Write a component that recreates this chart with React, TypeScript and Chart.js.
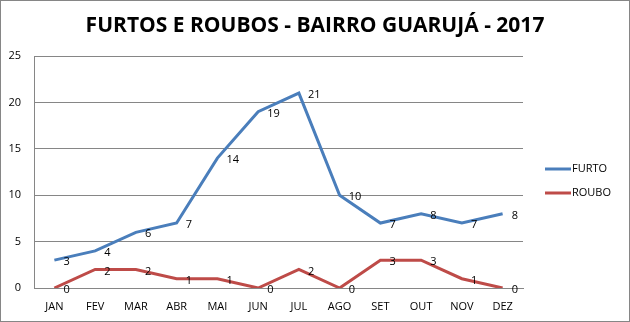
import React, { useEffect, useRef } from "react";
import { Chart, registerables } from "chart.js";

Chart.register(...registerables);

const categories = ["JAN", "FEV", "MAR", "ABR", "MAI", "JUN", "JUL", "AGO", "SET", "OUT", "NOV", "DEZ"];
const furto = [3, 4, 6, 7, 14, 19, 21, 10, 7, 8, 7, 8];
const roubo = [0, 2, 2, 1, 1, 0, 2, 0, 3, 3, 1, 0];
const yTicks = [0, 5, 10, 15, 20, 25];
const seriesNames = ["FURTO", "ROUBO"];
const colors = ["#4A7EBB", "#BE4B48"];
const titleText = "FURTOS E ROUBOS - BAIRRO GUARUJÁ - 2017";

const FONT = "'Open Sans', sans-serif";

const labelsPlugin = {
  id: "pointLabels",
  afterDatasetsDraw(chart: any) {
    const ctx = chart.ctx;
    ctx.save();
    ctx.font = `11px ${FONT}`;
    ctx.fillStyle = "#000";
    ctx.textAlign = "left";
    ctx.textBaseline = "middle";
    chart.data.datasets.forEach((ds: any, i: number) => {
      const meta = chart.getDatasetMeta(i);
      meta.data.forEach((pt: any, j: number) => {
        ctx.fillText(String(ds.data[j]), pt.x + 9, pt.y + 2);
      });
    });
    ctx.restore();
  },
};

const decorPlugin = {
  id: "decor",
  afterDraw(chart: any) {
    const ctx = chart.ctx;
    ctx.save();
    // title
    ctx.font = `bold 21px ${FONT}`;
    ctx.fillStyle = "#000";
    ctx.textAlign = "center";
    ctx.textBaseline = "middle";
    ctx.fillText(titleText, chart.width / 2, 26);
    // legend
    ctx.font = `11px ${FONT}`;
    ctx.textAlign = "left";
    const ys = [169, 193];
    chart.data.datasets.forEach((ds: any, i: number) => {
      const y = ys[i];
      ctx.strokeStyle = ds.borderColor;
      ctx.lineWidth = 3;
      ctx.beginPath();
      ctx.moveTo(545, y);
      ctx.lineTo(571, y);
      ctx.stroke();
      ctx.fillStyle = "#000";
      ctx.fillText(ds.label, 572, y);
    });
    // chart border
    ctx.strokeStyle = "#868686";
    ctx.lineWidth = 1;
    ctx.strokeRect(0.5, 0.5, chart.width - 1, chart.height - 1);
    ctx.restore();
  },
};

export default function App() {
  const ref = useRef<HTMLCanvasElement>(null);
  useEffect(() => {
    document.body.style.margin = "0";
    const chart = new Chart(ref.current as HTMLCanvasElement, {
      type: "line",
      data: {
        labels: categories,
        datasets: [
          { label: seriesNames[0], data: furto, borderColor: colors[0], backgroundColor: colors[0], borderWidth: 3, pointRadius: 0, tension: 0 },
          { label: seriesNames[1], data: roubo, borderColor: colors[1], backgroundColor: colors[1], borderWidth: 3, pointRadius: 0, tension: 0 },
        ],
      },
      options: {
        animation: false,
        responsive: false,
        layout: { padding: { top: 56, right: 107, bottom: 0, left: 0 } },
        plugins: {
          legend: { display: false },
          tooltip: { enabled: false },
          title: { display: false },
        },
        scales: {
          x: {
            offset: true,
            grid: { display: false, drawTicks: false },
            border: { display: true, color: "#868686", width: 1 },
            ticks: { color: "#000", font: { family: FONT, size: 11 }, padding: 12, maxRotation: 0 },
            afterFit(scale: any) { scale.height = 34; },
          },
          y: {
            min: 0,
            max: 25,
            afterBuildTicks(scale: any) { scale.ticks = yTicks.map((v) => ({ value: v })); },
            grid: { color: "#868686", drawTicks: false },
            border: { display: true, color: "#868686", width: 1 },
            ticks: { color: "#000", font: { family: FONT, size: 11 }, padding: 13 },
            afterFit(scale: any) { scale.width = 34; },
          },
        },
      },
      plugins: [labelsPlugin, decorPlugin],
    } as any);
    return () => chart.destroy();
  }, []);
  return <canvas ref={ref} width={630} height={322} style={{ display: "block" }} />;
}
